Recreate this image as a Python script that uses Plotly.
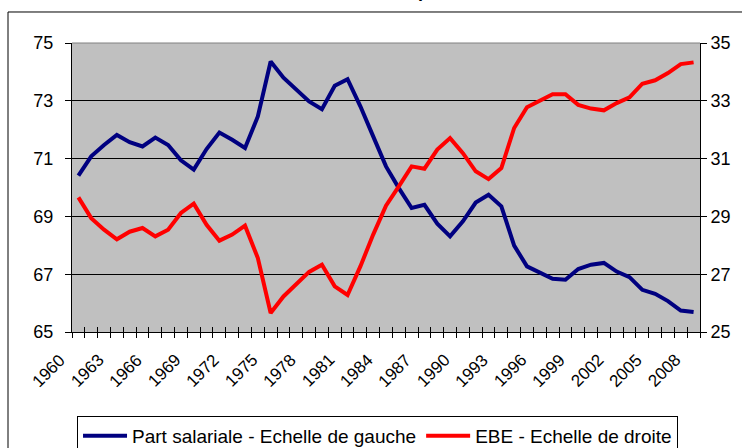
import plotly.graph_objects as go

years = list(range(1960, 2009))

part_salariale = [
    70.41, 71.08, 71.47, 71.82, 71.57, 71.42, 71.73, 71.47, 70.94, 70.62,
    71.33, 71.90, 71.65, 71.37, 72.46, 74.36, 73.80, 73.38, 72.98, 72.71,
    73.52, 73.75, 72.81, 71.77, 70.73, 69.98, 69.29, 69.40, 68.75, 68.31,
    68.83, 69.48, 69.75, 69.35, 67.99, 67.27, 67.04, 66.84, 66.81, 67.18,
    67.33, 67.39, 67.09, 66.90, 66.46, 66.32, 66.07, 65.74, 65.69,
]

ebe = [
    29.66, 28.94, 28.54, 28.21, 28.47, 28.60, 28.31, 28.54, 29.12, 29.44,
    28.71, 28.16, 28.37, 28.68, 27.56, 25.66, 26.23, 26.64, 27.08, 27.33,
    26.58, 26.28, 27.27, 28.37, 29.37, 30.04, 30.73, 30.65, 31.31, 31.71,
    31.19, 30.56, 30.29, 30.67, 32.06, 32.78, 33.00, 33.23, 33.23, 32.86,
    32.73, 32.67, 32.92, 33.12, 33.59, 33.71, 33.96, 34.27, 34.33,
]

label_years = years[::3]
tick_labels = [str(y) for y in label_years]
boundaries = [y - 0.5 for y in years] + [years[-1] + 0.5]

left_ticks = [65, 67, 69, 71, 73, 75]
right_ticks = [25, 27, 29, 31, 33, 35]

name_left = "Part salariale - Echelle de gauche"
name_right = "EBE - Echelle de droite"
title_text = "p"

FONT = "Liberation Sans, Arial, sans-serif"

fig = go.Figure()
fig.add_trace(go.Scatter(
    x=years, y=part_salariale, name=name_left, mode="lines",
    line=dict(color="#000080", width=4), yaxis="y", xaxis="x",
))
fig.add_trace(go.Scatter(
    x=years, y=ebe, name=name_right, mode="lines",
    line=dict(color="#FF0000", width=4), yaxis="y2", xaxis="x",
))
# helper trace so the overlay axis (inside tick marks) is drawn
fig.add_trace(go.Scatter(
    x=[years[0]], y=[None], xaxis="x2", yaxis="y", showlegend=False,
    hoverinfo="skip", mode="lines",
))

xrange = [years[0] - 0.5, years[-1] + 0.5]

# rotated year labels, placed on the x scale at each labelled year
year_annotations = [
    dict(text=t, x=yv, xref="x", y=-0.0554, yref="paper",
         xanchor="right", yanchor="top", textangle=-45, showarrow=False,
         xshift=-6, font=dict(family=FONT, size=17, color="black"))
    for yv, t in zip(label_years, tick_labels)
]

fig.update_layout(
    width=742, height=448,
    margin=dict(l=72, r=42, t=43, b=116, autoexpand=False),
    paper_bgcolor="white",
    plot_bgcolor="#C0C0C0",
    font=dict(family=FONT, size=17, color="black"),
    showlegend=True,
    xaxis=dict(
        range=xrange, tickmode="array", tickvals=label_years, ticktext=tick_labels,
        showticklabels=False, ticks="",
        showgrid=False, zeroline=False, automargin=False,
        showline=True, linecolor="black", linewidth=1,
        minor=dict(tickmode="array", tickvals=boundaries, ticks="outside",
                   ticklen=5, tickcolor="black", tickwidth=1, showgrid=False),
    ),
    xaxis2=dict(
        range=xrange, overlaying="x", anchor="y", side="bottom", automargin=False,
        tickmode="array", tickvals=boundaries, ticks="inside", ticklen=5,
        tickcolor="black", tickwidth=1, showticklabels=False,
        showgrid=False, zeroline=False, showline=False,
    ),
    yaxis=dict(
        range=[65, 75], tickmode="array", tickvals=left_ticks, automargin=False,
        showgrid=True, gridcolor="black", gridwidth=1, zeroline=False,
        showline=True, linecolor="black", linewidth=1,
        ticks="outside", ticklen=6, tickcolor="black", ticklabelstandoff=8,
        tickfont=dict(family=FONT, size=18, color="black"),
    ),
    yaxis2=dict(
        range=[25, 35], tickmode="array", tickvals=right_ticks, automargin=False,
        overlaying="y", side="right", anchor="x",
        showgrid=False, zeroline=False,
        showline=True, linecolor="black", linewidth=1,
        ticks="outside", ticklen=6, tickcolor="black",
        tickfont=dict(family=FONT, size=18, color="black"),
    ),
    legend=dict(
        orientation="h", x=0.008, xanchor="left", y=-0.2907, yanchor="top",
        bordercolor="black", borderwidth=1, bgcolor="white", itemwidth=44,
        font=dict(family=FONT, size=19, color="black"),
    ),
    shapes=[
        dict(type="line", xref="paper", yref="paper", x0=0, x1=1, y0=1, y1=1,
             line=dict(color="#808080", width=1)),
        dict(type="rect", xref="paper", yref="paper",
             x0=-0.1019, x1=1.08, y0=-0.45, y1=1.1073,
             line=dict(color="black", width=1), fillcolor="rgba(0,0,0,0)"),
    ],
    annotations=year_annotations + [
        dict(text="<b>" + title_text + "</b>", xref="paper", yref="paper",
             x=0.548, y=1.1384, xanchor="left", yanchor="bottom", showarrow=False,
             font=dict(family=FONT, size=18, color="black")),
    ],
)

fig.write_html("out.html", config={"displayModeBar": False},
               post_script="document.body.style.margin='0';")
